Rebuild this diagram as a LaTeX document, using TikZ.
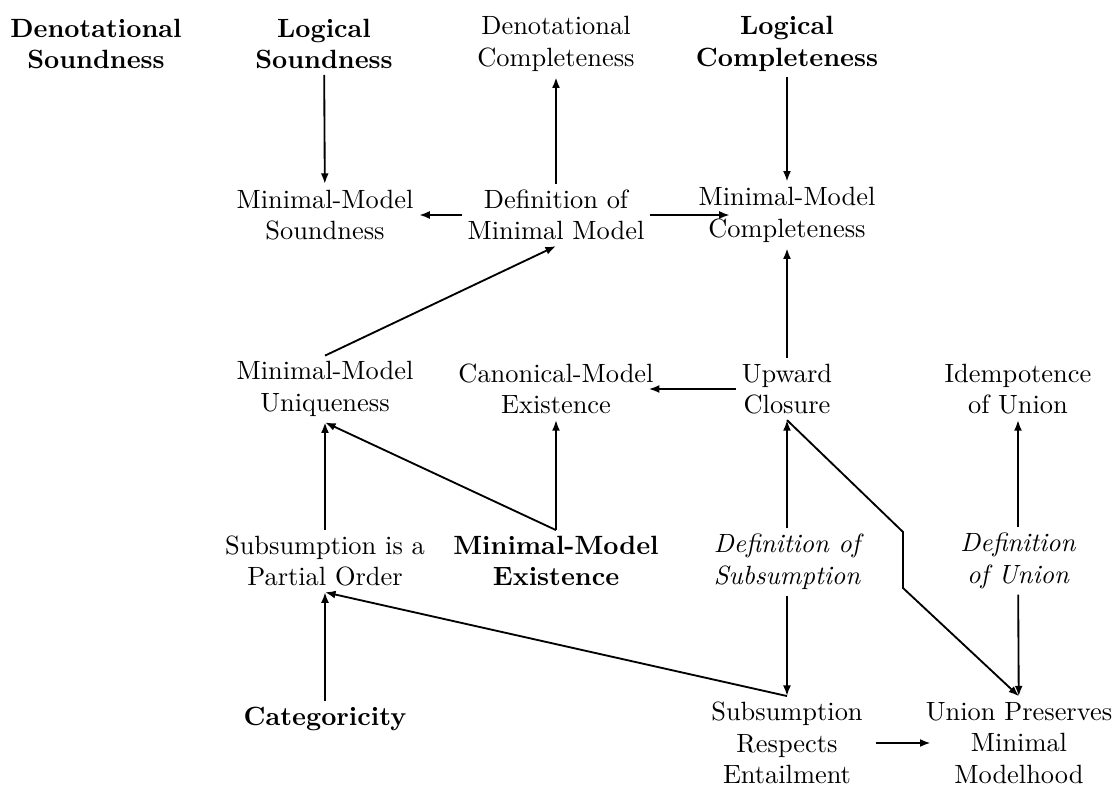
\documentclass[tikz,border=0pt]{standalone}
\usepackage{amsmath}
\usetikzlibrary{arrows.meta}

\begin{document}
\begin{tikzpicture}[x=0.3788pt, y=-0.3788pt,
    thm/.style={align=center, inner sep=2pt},
    key/.style={thm, font=\bfseries},
    defn/.style={thm, font=\itshape},
    dep/.style={-{Latex[length=4pt,width=3pt]}, line width=0.7pt}]
    \useasboundingbox (0,0) rectangle (1114,790);

    % top row
    \node[key] (densnd) at (96,44) {Denotational\\Soundness};
    \node[key] (logsnd) at (324,44) {Logical\\Soundness};
    \node[thm] (dencmp) at (556,44) {Denotational\\Completeness};
    \node[key] (logcmp) at (787,44) {Logical\\Completeness};

    \node[thm] (mmsnd) at (325,215) {Minimal-Model\\Soundness};
    \node[thm] (defmm) at (556,215) {Definition of\\Minimal Model};
    \node[thm] (mmcmp) at (787,215) {Minimal-Model\\Completeness};

    \node[thm] (mmuniq) at (325,389) {Minimal-Model\\Uniqueness};
    \node[thm] (cmex) at (556,389) {Canonical-Model\\Existence};
    \node[thm] (upcl) at (787,389) {Upward\\Closure};
    \node[thm] (idem) at (1018,389) {Idempotence\\of Union};

    \node[thm] (subpo) at (325,561) {Subsumption is a\\Partial Order};
    \node[key] (mmex) at (556,561) {Minimal-Model\\Existence};
    \node[defn] (defsub) at (787,562) {Definition of\\Subsumption};
    \node[defn] (defun) at (1018,561) {Definition\\of Union};

    % bottom row
    \node[key] (categ) at (325,719) {Categoricity};
    \node[thm] (subent) at (787,743) {Subsumption\\Respects\\Entailment};
    \node[thm] (unmin) at (1019,743) {Union Preserves\\Minimal\\Modelhood};

    \coordinate (bendA) at (903,532);
    \coordinate (bendB) at (903,588);

    \draw[dep] (logsnd) -- (mmsnd);
    \draw[dep] (defmm) -- (dencmp);
    \draw[dep] (logcmp) -- (mmcmp);
    \draw[dep] (defmm.west) -- (mmsnd.east);
    \draw[dep] (defmm.east) -- ([xshift=14pt]mmcmp.west);
    \draw[dep] (mmuniq.north) -- (defmm.south);
    \draw[dep] (upcl.west) -- ([xshift=-4pt]cmex.east);
    \draw[dep] (upcl) -- (mmcmp);
    \draw[dep] (subpo) -- (mmuniq);
    \draw[dep] (mmex) -- (cmex);
    \draw[dep] (mmex.north) -- (mmuniq.south);
    \draw[dep] (defsub) -- (upcl);
    \draw[dep] (defun) -- (idem);
    \draw[dep] (categ) -- (subpo);
    \draw[dep] (subent.north) -- (subpo.south);
    \draw[dep] (defsub) -- (subent);
    \draw[dep] (defun) -- (unmin);
    \draw[dep] (upcl.south) -- (bendA) -- (bendB) -- (unmin.north);
    \draw[dep, shorten <=3pt, shorten >=-4pt] (subent.east) -- (unmin.west);
\end{tikzpicture}
\end{document}
